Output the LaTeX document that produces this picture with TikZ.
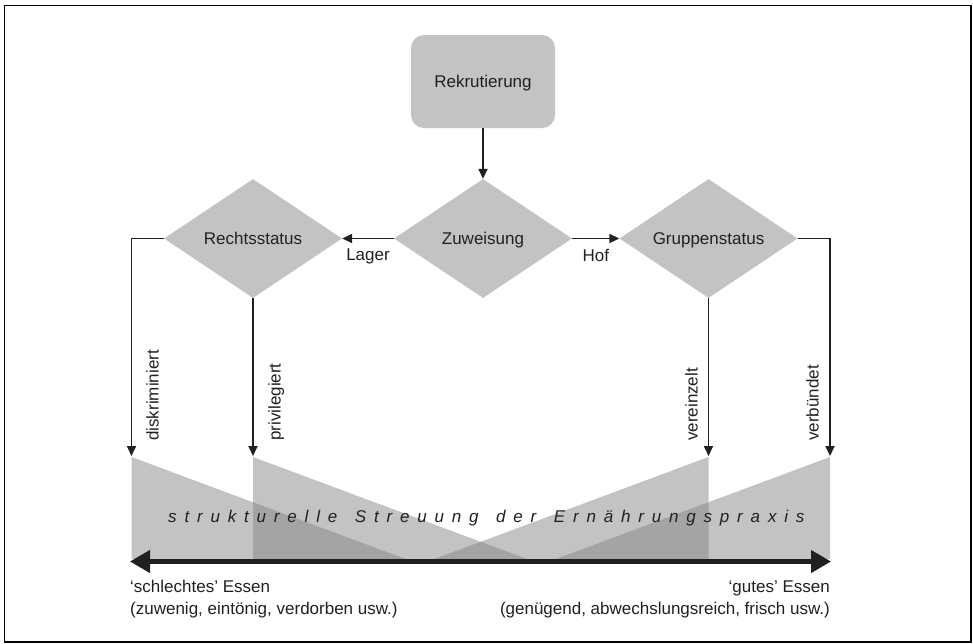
\documentclass[tikz,border=0pt]{standalone}
\usepackage{fontspec}
\setmainfont{Liberation Sans}
\newfontfamily\spacedfont[LetterSpace=46]{Liberation Sans}
\usetikzlibrary{shapes.geometric,arrows.meta}
\definecolor{boxgray}{RGB}{195,195,197}
\definecolor{overlapgray}{RGB}{164,164,166}
\definecolor{ink}{RGB}{35,31,32}
\tikzset{
  rekbox/.style={fill=boxgray, rounded corners=13pt, minimum width=144pt, minimum height=93pt, inner sep=0pt, text height=12.5pt, text depth=0pt},
  dia/.style={diamond, aspect=1.5, fill=boxgray, minimum width=178pt, minimum height=119pt, inner sep=0pt, text height=12.5pt, text depth=0pt},
  arr/.style={draw=ink, line width=1.8pt, -{Triangle[length=10pt,width=9pt]}},
  rotlabel/.style={rotate=90, anchor=base west, inner sep=0pt},
  lbl/.style={inner sep=0pt},
  tri/.style={fill=boxgray},
  ovl/.style={fill=overlapgray}
}
\newcommand\wgap{\hspace*{5pt} }
\begin{document}
\begin{tikzpicture}[x=1pt, y=-1pt, font=\fontsize{17}{21}\selectfont, text=ink]
\useasboundingbox (0,0) rectangle (973,643);
\draw[line width=1.2pt] (4.5,5.5) rectangle (971,642);

% spreading triangles
\fill[tri] (131.5,457) -- (131.5,559) -- (405.5,559) -- cycle;
\fill[tri] (253,457) -- (253,559) -- (527,559) -- cycle;
\fill[tri] (708.5,457) -- (708.5,559) -- (434.5,559) -- cycle;
\fill[tri] (830,457) -- (830,559) -- (556,559) -- cycle;
% overlaps
\fill[ovl] (253,502.2) -- (253,559) -- (405.5,559) -- cycle;
\fill[ovl] (480.75,541.7) -- (434.5,559) -- (527,559) -- cycle;
\fill[ovl] (708.5,502.2) -- (708.5,559) -- (556,559) -- cycle;

\node[lbl, anchor=base west] (streu) at (168,522) {\spacedfont\itshape strukturelle\wgap Streuung\wgap der\wgap Ernährungspraxis};

% nodes
\node[rekbox] (rek) at (483,81.5) {Rekrutierung};
\node[dia] (zuw) at (483,238.5) {Zuweisung};
\node[dia] (recht) at (253,238.5) {Rechtsstatus};
\node[dia] (grupp) at (708.5,238.5) {Gruppenstatus};

\coordinate (tA) at (131.5,456);
\coordinate (tB) at (253,456);
\coordinate (tC) at (708.5,456);
\coordinate (tD) at (830,456);

\draw[arr] (rek.south) -- (zuw.north);
\draw[arr] (zuw.west) -- node[lbl, midway, below=9.5pt] (lager) {Lager} (recht.east);
\draw[arr] (zuw.east) -- node[lbl, midway, below=9.5pt] (hof) {Hof} (grupp.west);
\draw[arr] (recht.west) -| (tA);
\draw[arr] (recht.south) -- (tB);
\draw[arr] (grupp.south) -- (tC);
\draw[arr] (grupp.east) -| (tD);

\node[rotlabel] (ldis) at (158.5,441) {diskriminiert};
\node[rotlabel] (lpriv) at (280.5,441) {privilegiert};
\node[rotlabel] (lver) at (697.5,441) {vereinzelt};
\node[rotlabel] (lverb) at (818.5,441) {verbündet};

% scale arrow
\coordinate (aL) at (130,561.5);
\coordinate (aR) at (831,561.5);
\draw[draw=ink, line width=4.3pt, {Triangle[length=20pt,width=22pt]}-{Triangle[length=20pt,width=22pt]}] (aL) -- (aR);

\node[lbl, anchor=base west] (bad1) at (130,592) {‘schlechtes’ Essen};
\node[lbl, anchor=base west] (bad2) at (130,614) {(zuwenig, eintönig, verdorben usw.)};
\node[lbl, anchor=base east] (good1) at (830,592) {‘gutes’ Essen};
\node[lbl, anchor=base east] (good2) at (830,614) {(genügend, abwechslungsreich, frisch usw.)};
\end{tikzpicture}
\end{document}
